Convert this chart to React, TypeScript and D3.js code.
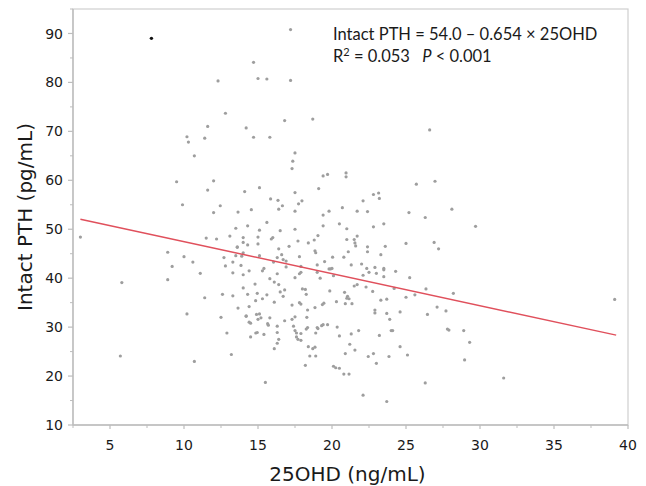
import React from "react";
import * as d3 from "d3";

// 25OHD (ng/mL) values, paired with Intact PTH (pg/mL) values below
const ohd: number[] = [
  3.0, 5.8, 5.7, 8.9, 9.2, 8.9, 9.5, 9.9, 10.0, 10.2, 10.3, 10.2, 10.6, 10.7, 10.7, 11.1, 11.4, 11.4, 11.5, 11.6,
  11.6, 12.0, 12.0, 12.2, 12.3, 12.45, 12.5, 12.6, 12.7, 12.8, 12.8, 12.9, 13.1, 13.2, 13.3, 13.3, 13.5, 13.5, 13.6, 13.3,
  13.65, 13.65, 14.0, 14.0, 14.0, 13.9, 13.85, 14.0, 14.0, 14.1, 14.2, 14.3, 14.3, 14.3, 14.4, 14.2, 14.4, 14.5, 14.5, 14.55,
  14.4, 14.7, 14.7, 14.8, 14.85, 14.95, 14.84, 15.0, 14.95, 15.0, 15.0, 15.0, 15.1, 15.1, 15.1, 15.1, 15.2, 15.3, 15.4, 15.3,
  15.4, 15.5, 15.6, 15.6, 15.6, 15.65, 15.7, 15.8, 15.8, 15.8, 15.85, 15.9, 16.0, 16.1, 16.1, 16.3, 16.3, 16.3, 16.4, 16.4,
  16.3, 16.05, 16.35, 16.4, 16.5, 16.5, 16.6, 16.65, 16.7, 16.9, 16.3, 16.4, 16.7, 16.8, 16.8, 16.8, 16.9, 17.1, 17.2, 17.2,
  17.3, 17.35, 17.5, 17.3, 17.3, 17.4, 17.5, 17.6, 17.6, 17.7, 17.9, 17.5, 17.5, 17.5, 17.5, 17.5, 17.7, 17.74, 17.8, 17.8,
  17.9, 17.8, 17.9, 17.9, 17.97, 18.0, 18.2, 17.9, 18.26, 18.35, 18.3, 18.4, 18.4, 18.5, 18.2, 18.26, 18.35, 18.7, 18.8, 18.85,
  18.9, 18.7, 18.85, 18.9, 18.85, 18.9, 19.0, 19.0, 19.0, 19.05, 19.05, 19.1, 19.2, 19.3, 19.35, 19.45, 19.4, 19.4, 19.4, 19.5,
  19.4, 19.7, 19.7, 19.8, 19.8, 19.85, 19.9, 20.0, 20.04, 20.1, 20.1, 20.25, 20.5, 20.3, 20.35, 20.5, 20.5, 20.7, 20.8, 20.8,
  20.85, 20.9, 20.9, 20.95, 20.95, 21.0, 21.0, 21.0, 21.15, 21.05, 21.1, 21.15, 21.2, 21.3, 21.3, 21.35, 21.5, 21.5, 21.55, 21.55,
  21.6, 21.7, 21.7, 21.7, 21.8, 22.0, 22.1, 22.1, 22.1, 22.3, 22.35, 22.4, 22.4, 22.4, 22.45, 22.5, 22.75, 22.8, 22.8, 22.8,
  22.9, 22.9, 22.9, 23.0, 23.0, 23.15, 23.2, 23.2, 23.3, 23.3, 23.5, 23.5, 23.5, 23.5, 23.6, 23.7, 23.7, 23.7, 23.85, 23.9,
  24.0, 24.1, 24.2, 24.3, 24.6, 24.6, 25.0, 25.0, 25.1, 25.2, 25.25, 25.6, 25.7, 26.3, 26.3, 26.35, 26.45, 26.6, 26.9, 26.96,
  27.1, 27.2, 27.7, 27.8, 27.9, 28.1, 28.2, 28.9, 28.96, 29.3, 29.7, 31.6, 39.1, 16.1, 14.9, 13.6, 14.2
];

const pth: number[] = [
  48.4, 39.1, 24.1, 45.3, 42.4, 39.7, 59.7, 55.0, 44.4, 68.9, 67.8, 32.7, 43.3, 65.0, 23.0, 41.0, 68.6, 36.0, 48.2, 71.0,
  58.0, 59.9, 53.4, 48.0, 80.3, 54.8, 32.0, 36.7, 44.2, 42.5, 73.7, 28.8, 48.6, 24.4, 41.1, 43.3, 44.6, 50.2, 46.3, 36.4,
  53.5, 33.9, 48.3, 40.7, 38.0, 44.5, 42.6, 45.2, 47.3, 57.7, 70.7, 46.8, 50.7, 36.7, 41.5, 32.2, 31.0, 30.8, 28.0, 54.0,
  34.2, 84.1, 68.8, 38.8, 28.8, 28.9, 35.4, 31.6, 36.9, 80.8, 48.4, 47.0, 44.6, 49.8, 58.5, 32.7, 31.9, 35.8, 28.5, 41.5,
  42.0, 18.7, 36.6, 80.7, 51.4, 30.7, 30.4, 39.9, 68.8, 31.9, 56.2, 48.0, 48.3, 35.1, 25.6, 30.2, 28.9, 40.9, 38.7, 46.0,
  44.2, 43.3, 55.9, 54.1, 49.7, 37.2, 44.8, 54.8, 43.8, 43.5, 26.7, 27.5, 36.3, 37.6, 31.3, 72.2, 42.3, 46.5, 80.4, 90.8,
  62.4, 63.9, 65.6, 34.5, 31.6, 30.2, 29.3, 28.8, 28.0, 27.5, 27.3, 32.1, 40.1, 57.5, 53.7, 50.0, 47.6, 55.2, 44.4, 35.0,
  34.7, 40.9, 41.2, 28.7, 55.8, 37.8, 37.7, 42.4, 36.7, 33.5, 32.0, 47.2, 26.0, 24.1, 22.2, 29.6, 29.9, 72.5, 47.8, 45.6,
  45.2, 25.6, 25.9, 24.1, 34.0, 28.8, 29.9, 41.2, 42.7, 48.7, 29.7, 58.3, 40.0, 30.3, 34.6, 34.9, 60.9, 52.9, 50.7, 43.4,
  30.5, 30.5, 61.2, 53.7, 41.9, 37.4, 41.9, 42.0, 44.3, 40.5, 22.0, 21.7, 21.6, 35.2, 30.0, 28.2, 51.1, 54.4, 44.3, 20.4,
  37.1, 34.8, 24.6, 61.5, 60.7, 50.1, 47.9, 35.9, 35.8, 36.3, 45.4, 20.4, 26.5, 28.6, 42.7, 34.8, 47.9, 38.4, 25.3, 47.2,
  46.6, 48.6, 53.7, 38.7, 29.3, 42.9, 40.6, 55.8, 16.1, 38.2, 42.0, 53.6, 46.4, 45.4, 24.0, 41.2, 37.3, 57.1, 50.5, 24.6,
  42.2, 33.5, 32.9, 41.0, 22.6, 57.4, 56.3, 28.3, 35.5, 44.8, 42.0, 41.7, 40.3, 51.1, 46.5, 35.7, 32.8, 14.8, 24.0, 31.6,
  29.3, 29.3, 37.9, 41.4, 33.1, 26.0, 47.1, 36.1, 24.3, 53.4, 40.1, 36.6, 59.2, 52.4, 18.6, 37.8, 32.6, 70.3, 47.3, 59.8,
  34.1, 46.0, 33.3, 29.6, 29.4, 54.1, 36.9, 29.3, 23.3, 26.9, 50.6, 19.6, 35.65, 39.2, 32.6, 46.4, 32.3
];

// Highlighted (black) observation
const outlierOhd: number[] = [7.8];
const outlierPth: number[] = [89.0];

// Regression: Intact PTH = 54.0 - 0.654 x 25OHD, drawn over observed range
const intercept = 54.0;
const slope = -0.654;
const fitRange: number[] = [3.0, 39.2];

const xTicks: number[] = [5, 10, 15, 20, 25, 30, 35, 40];
const xMinor: number[] = [2.5, 7.5, 12.5, 17.5, 22.5, 27.5, 32.5, 37.5];
const yTicks: number[] = [10, 20, 30, 40, 50, 60, 70, 80, 90];
const yMinor: number[] = [15, 25, 35, 45, 55, 65, 75, 85, 95];

const W = 646;
const H = 486;
const M = { left: 73, right: 628, top: 9, bottom: 425 };

export default function App() {
  const x = d3.scaleLinear().domain([2.5, 40]).range([M.left, M.right]);
  const y = d3.scaleLinear().domain([10, 95]).range([M.bottom, M.top]);
  const line = d3
    .line<number>()
    .x((d) => x(d))
    .y((d) => y(intercept + slope * d));

  const tickFont = "'DejaVu Sans', Verdana, sans-serif";
  const axisColor = "#bdbdbd";

  return (
    <svg
      width={W}
      height={H}
      style={{ position: "absolute", left: 0, top: 0, background: "#fff" }}
    >
      {/* frame */}
      <rect
        x={M.left}
        y={M.top}
        width={M.right - M.left}
        height={M.bottom - M.top}
        fill="none"
        stroke="#cfcfcf"
        strokeWidth={1.2}
      />
      <line x1={M.left} x2={M.left} y1={M.top} y2={M.bottom} stroke={axisColor} strokeWidth={1.4} />
      <line x1={M.left} x2={M.right} y1={M.bottom} y2={M.bottom} stroke={axisColor} strokeWidth={1.4} />

      {/* x ticks */}
      {xTicks.map((t) => (
        <g key={"xt" + t}>
          <line x1={x(t)} x2={x(t)} y1={M.bottom} y2={M.bottom + 4} stroke={axisColor} strokeWidth={1.2} />
          <text
            x={x(t)}
            y={M.bottom + 25}
            textAnchor="middle"
            fontFamily={tickFont}
            fontSize={14}
            fill="#1a1a1a"
          >
            {t}
          </text>
        </g>
      ))}
      {xMinor.map((t) => (
        <line key={"xm" + t} x1={x(t)} x2={x(t)} y1={M.bottom} y2={M.bottom + 3} stroke={axisColor} strokeWidth={1} />
      ))}

      {/* y ticks */}
      {yTicks.map((t) => (
        <g key={"yt" + t}>
          <line x1={M.left - 5} x2={M.left} y1={y(t)} y2={y(t)} stroke={axisColor} strokeWidth={1.2} />
          <text
            x={M.left - 10}
            y={y(t)}
            dy="0.36em"
            textAnchor="end"
            fontFamily={tickFont}
            fontSize={14}
            fill="#1a1a1a"
          >
            {t}
          </text>
        </g>
      ))}
      {yMinor.map((t) => (
        <line key={"ym" + t} x1={M.left - 3} x2={M.left} y1={y(t)} y2={y(t)} stroke={axisColor} strokeWidth={1} />
      ))}

      {/* axis titles */}
      <text
        x={(M.left + M.right) / 2 - 3}
        y={481}
        textAnchor="middle"
        fontFamily={tickFont}
        fontSize={20}
        fill="#1a1a1a"
      >
        25OHD (ng/mL)
      </text>
      <text
        transform={`translate(32, ${(M.top + M.bottom) / 2}) rotate(-90)`}
        textAnchor="middle"
        fontFamily={tickFont}
        fontSize={20}
        fill="#1a1a1a"
      >
        Intact PTH (pg/mL)
      </text>

      {/* points */}
      {ohd.map((v, i) => (
        <circle key={"p" + i} cx={x(v)} cy={y(pth[i])} r={1.6} fill="#9e9e9e" />
      ))}
      {outlierOhd.map((v, i) => (
        <circle key={"o" + i} cx={x(v)} cy={y(outlierPth[i])} r={1.7} fill="#111" />
      ))}

      {/* regression line */}
      <path d={line(fitRange) || ""} fill="none" stroke="#e0505c" strokeWidth={1.5} />

      {/* annotation */}
      <text x={333} y={40} fontFamily="Lato, 'Open Sans', sans-serif" fontSize={16.5} fill="#1a1a1a">
        Intact PTH = 54.0 – 0.654 {"\u00D7"} 25OHD
      </text>
      <text x={333} y={62} fontFamily="Lato, 'Open Sans', sans-serif" fontSize={16.5} fill="#1a1a1a">
        R<tspan dy={-6} fontSize={11}>2</tspan>
        <tspan dy={6}> = 0.053 </tspan>
        <tspan fontStyle="italic" dx={8}>P</tspan>
        <tspan> &lt; 0.001</tspan>
      </text>
    </svg>
  );
}
